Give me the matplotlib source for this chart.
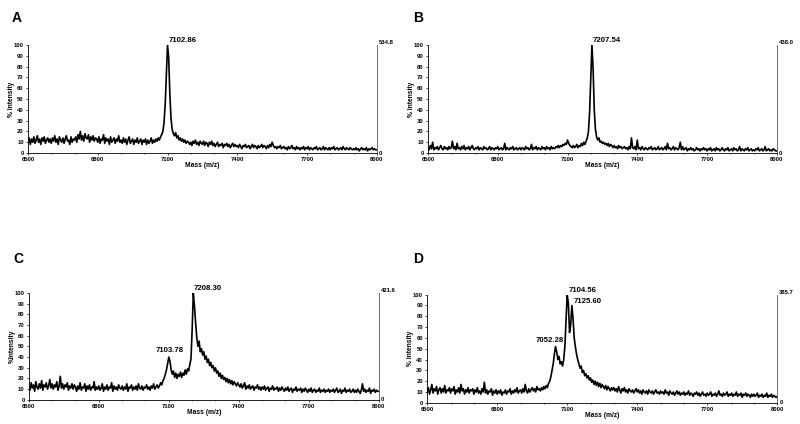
import numpy as np
import matplotlib
matplotlib.use('Agg')
import matplotlib.pyplot as plt
from matplotlib.ticker import MultipleLocator

plt.rcParams['font.family'] = ['Liberation Sans', 'DejaVu Sans']
plt.rcParams['font.weight'] = 'bold'

# масса, шаг 5 Да
mass = np.arange(6500, 8001, 5)

# интенсивность (%) по панелям, каждая строка = 100 Да
intens_a = [
    11, 14, 8, 13, 10, 15, 9, 12, 16, 10, 13, 8, 14, 11, 15, 9, 12, 14, 10, 13,
    9, 14, 11, 16, 10, 13, 8, 15, 12, 10, 14, 9, 13, 16, 11, 12, 8, 15, 10, 13,
    12, 15, 10, 17, 13, 20, 12, 16, 11, 18, 14, 13, 17, 10, 15, 12, 16, 11, 14, 13,
    10, 15, 9, 13, 12, 17, 9, 14, 11, 13, 8, 15, 10, 12, 14, 9, 13, 11, 16, 10,
    12, 9, 14, 10, 13, 8, 12, 15, 9, 11, 13, 8, 12, 10, 14, 9, 11, 13, 8, 12,
    10, 13, 8, 12, 9, 11, 14, 9, 12, 10, 13, 11, 14, 12, 15, 17, 20, 28, 45, 72,
    100, 88, 55, 32, 22, 18, 16, 19, 14, 16, 12, 14, 11, 13, 10, 12, 9, 11, 10, 8,
    10, 7, 11, 9, 12, 8, 10, 7, 11, 9, 8, 11, 7, 10, 9, 6, 10, 8, 11, 7,
    9, 6, 8, 10, 6, 8, 7, 9, 5, 8, 7, 9, 6, 8, 5, 7, 9, 6, 8, 6,
    7, 5, 8, 6, 4, 7, 6, 8, 5, 6, 7, 4, 6, 8, 5, 7, 6, 4, 7, 5,
    6, 8, 5, 7, 6, 4, 7, 5, 8, 6, 10, 7, 5, 6, 4, 6, 5, 7, 4, 5,
    6, 4, 5, 3, 6, 4, 5, 7, 4, 5, 3, 6, 4, 5, 3, 5, 4, 6, 3, 5,
    4, 6, 3, 5, 4, 3, 5, 4, 6, 3, 4, 5, 3, 4, 6, 3, 5, 4, 3, 5,
    3, 5, 4, 6, 3, 4, 5, 3, 4, 5, 3, 6, 4, 3, 5, 4, 3, 5, 4, 3,
    4, 3, 5, 3, 4, 2, 4, 5, 3, 4, 3, 5, 2, 4, 3, 4, 5, 3, 4, 3,
    3]

intens_b = [
    5, 3, 7, 4, 10, 3, 5, 4, 6, 3, 5, 7, 4, 3, 6, 4, 5, 3, 6, 4,
    5, 11, 4, 6, 3, 9, 4, 5, 3, 6, 4, 7, 3, 5, 4, 6, 3, 5, 7, 4,
    3, 5, 4, 6, 3, 5, 4, 3, 6, 4, 5, 3, 4, 6, 3, 5, 4, 3, 5, 4,
    6, 3, 4, 5, 3, 4, 9, 3, 5, 4, 3, 5, 4, 6, 3, 4, 5, 3, 4, 5,
    3, 5, 4, 3, 6, 4, 5, 3, 4, 8, 3, 5, 4, 6, 3, 5, 4, 3, 6, 4,
    5, 3, 6, 4, 5, 3, 6, 4, 5, 4, 6, 5, 7, 5, 7, 6, 8, 7, 9, 8,
    12, 9, 7, 6, 5, 7, 5, 6, 8, 5, 7, 6, 9, 7, 10, 8, 11, 14, 20, 38,
    70, 100, 78, 40, 22, 15, 12, 14, 10, 11, 9, 10, 8, 9, 7, 9, 6, 8, 7, 5,
    7, 5, 6, 4, 7, 5, 6, 4, 5, 6, 4, 5, 3, 6, 4, 14, 5, 4, 6, 3,
    12, 4, 5, 3, 6, 4, 3, 5, 4, 3, 5, 4, 6, 3, 4, 5, 3, 4, 6, 3,
    4, 5, 3, 4, 6, 3, 9, 4, 5, 3, 4, 6, 3, 5, 4, 3, 5, 10, 3, 6,
    3, 4, 5, 2, 4, 3, 5, 3, 4, 2, 3, 5, 3, 4, 2, 4, 3, 5, 3, 4,
    2, 4, 3, 5, 2, 3, 4, 2, 5, 3, 4, 2, 3, 5, 3, 2, 4, 3, 5, 2,
    3, 4, 2, 5, 3, 4, 2, 3, 6, 2, 4, 3, 2, 4, 3, 5, 2, 3, 4, 2,
    3, 2, 4, 3, 5, 2, 3, 4, 2, 3, 6, 2, 3, 4, 2, 3, 2, 4, 3, 2,
    2]

intens_c = [
    13, 9, 16, 11, 14, 8, 17, 12, 10, 15, 11, 18, 9, 14, 12, 16, 10, 13, 19, 11,
    15, 10, 14, 12, 17, 9, 13, 22, 11, 15, 10, 14, 12, 16, 9, 13, 11, 15, 10, 14,
    12, 8, 13, 10, 16, 9, 12, 11, 15, 8, 13, 10, 14, 9, 12, 11, 17, 9, 12, 10,
    13, 9, 11, 15, 8, 12, 10, 14, 9, 12, 11, 16, 8, 13, 10, 12, 9, 14, 11, 10,
    13, 9, 12, 10, 15, 8, 12, 11, 14, 9, 12, 10, 13, 9, 15, 11, 10, 13, 9, 12,
    11, 14, 10, 12, 9, 13, 11, 15, 10, 12, 14, 11, 13, 16, 14, 18, 20, 24, 28, 34,
    40, 36, 28, 24, 27, 21, 25, 20, 24, 22, 26, 21, 25, 23, 28, 24, 29, 27, 33, 38,
    65, 100, 88, 72, 58, 50, 55, 45, 48, 42, 45, 38, 41, 35, 38, 32, 35, 30, 32, 27,
    30, 25, 27, 22, 25, 20, 23, 19, 21, 17, 20, 16, 19, 15, 18, 14, 17, 15, 13, 16,
    14, 12, 15, 11, 13, 16, 10, 13, 11, 14, 10, 12, 13, 9, 12, 11, 14, 10, 12, 9,
    12, 10, 13, 9, 11, 12, 8, 11, 10, 13, 9, 11, 10, 12, 8, 11, 9, 12, 10, 8,
    11, 9, 12, 8, 10, 11, 7, 10, 9, 12, 8, 10, 9, 11, 7, 10, 8, 11, 9, 7,
    10, 8, 11, 7, 9, 10, 7, 9, 8, 11, 7, 9, 8, 10, 7, 9, 8, 10, 7, 9,
    8, 10, 7, 9, 11, 7, 8, 10, 6, 9, 8, 11, 7, 9, 8, 10, 7, 8, 10, 7,
    9, 7, 10, 8, 6, 9, 15, 8, 10, 7, 9, 8, 11, 6, 9, 8, 10, 7, 9, 8,
    8]

intens_d = [
    10, 14, 8, 12, 17, 9, 13, 11, 15, 8, 12, 14, 9, 13, 10, 16, 9, 12, 11, 14,
    9, 13, 11, 15, 8, 12, 10, 14, 9, 17, 11, 13, 8, 12, 10, 14, 9, 12, 11, 13,
    8, 12, 10, 14, 9, 11, 8, 13, 10, 19, 9, 12, 8, 11, 10, 13, 7, 11, 9, 12,
    8, 11, 9, 12, 7, 10, 9, 12, 8, 11, 10, 13, 8, 11, 9, 12, 10, 14, 9, 11,
    12, 9, 13, 10, 17, 11, 9, 13, 10, 12, 14, 11, 13, 10, 15, 12, 13, 11, 14, 12,
    15, 13, 16, 14, 18, 20, 24, 30, 36, 45, 52, 47, 40, 43, 36, 38, 34, 40, 52, 75,
    100, 92, 65, 72, 90, 78, 60, 52, 45, 40, 36, 32, 34, 28, 30, 25, 27, 23, 25, 21,
    23, 19, 21, 17, 20, 16, 19, 15, 18, 14, 17, 15, 13, 16, 12, 15, 13, 11, 14, 12,
    14, 11, 13, 10, 15, 12, 9, 13, 11, 14, 10, 12, 9, 13, 11, 10, 12, 9, 11, 13,
    10, 12, 9, 11, 8, 12, 10, 9, 11, 8, 12, 10, 9, 11, 8, 10, 12, 9, 10, 8,
    11, 9, 10, 8, 12, 9, 10, 7, 11, 9, 8, 10, 7, 9, 11, 8, 10, 7, 9, 8,
    10, 7, 9, 8, 11, 7, 9, 8, 6, 9, 8, 10, 7, 9, 6, 8, 10, 7, 8, 6,
    9, 7, 8, 10, 6, 8, 7, 9, 6, 8, 11, 7, 8, 6, 9, 7, 8, 10, 6, 8,
    7, 9, 6, 8, 7, 10, 6, 8, 7, 9, 5, 8, 7, 9, 6, 8, 7, 5, 8, 6,
    8, 6, 7, 9, 5, 7, 6, 8, 5, 7, 6, 9, 5, 7, 6, 8, 5, 7, 6, 5,
    6]

panel_letters = ['A', 'B', 'C', 'D']
max_counts = ['534.8', '438.0', '421.6', '385.7']
y_titles = ['% Intensity', '% Intensity', '%Intensity', '% Intensity']
peak_labels = [['7102.86'], ['7207.54'], ['7208.30', '7103.78'],
               ['7104.56', '7125.60', '7052.28']]
x_ticks = [6500, 6800, 7100, 7400, 7700, 8000]

# расположение: (left, bottom, width, height) в долях фигуры
boxes = [(0.035, 0.639, 0.436, 0.255), (0.535, 0.639, 0.436, 0.255),
         (0.036, 0.057, 0.4375, 0.252), (0.534, 0.050, 0.4375, 0.255)]
letter_xy = [(0.015, 0.958), (0.516, 0.958), (0.017, 0.390), (0.516, 0.390)]
# (высота подписи, выравнивание, сдвиг по x)
label_place = [[(100.5, 'left', 0)], [(100.5, 'left', 0)],
               [(100.5, 'left', 0), (43, 'center', 0)],
               [(100.5, 'left', 0), (90, 'left', 0), (54, 'center', -25)]]

fig = plt.figure(figsize=(8, 4.24), dpi=100)
all_int = [intens_a, intens_b, intens_c, intens_d]

for i in range(4):
    ax = fig.add_axes(boxes[i])
    ax.plot(mass, all_int[i], color='black', lw=1.2)
    ax.set_xlim(6500, 8000)
    ax.set_ylim(0, 100)
    ax.set_xticks(x_ticks)
    ax.xaxis.set_minor_locator(MultipleLocator(100))
    ax.set_yticks(range(0, 101, 10))
    ax.tick_params(axis='both', which='major', labelsize=4.2, length=1.5,
                   width=0.5, pad=1.5)
    ax.tick_params(axis='x', which='minor', length=1.0, width=0.4)
    for lab in ax.get_xticklabels() + ax.get_yticklabels():
        lab.set_fontweight('bold')
    ax.spines['top'].set_visible(False)
    for s in ['left', 'bottom', 'right']:
        ax.spines[s].set_linewidth(0.6)
    ax.spines['right'].set_color('#555555')
    ax.set_xlabel('Mass (m/z)', fontsize=4.8, fontweight='bold', labelpad=1)
    ax.set_ylabel(y_titles[i], fontsize=4.8, fontweight='bold')
    ax.yaxis.set_label_coords(-0.037, 0.5)
    ax.xaxis.set_label_coords(0.5, -0.085)
    ax.text(1.006, 1.02, max_counts[i], transform=ax.transAxes, fontsize=4.2,
            fontweight='bold', va='center', ha='left')
    ax.text(1.006, 0.0, '0', transform=ax.transAxes, fontsize=4.2,
            fontweight='bold', va='center', ha='left')
    for lbl, (yy, ha, dx) in zip(peak_labels[i], label_place[i]):
        ax.text(float(lbl) + dx, yy, lbl, fontsize=5.6, fontweight='bold',
                ha=ha, va='bottom', clip_on=False)
    fig.text(letter_xy[i][0], letter_xy[i][1], panel_letters[i], fontsize=10,
             fontweight='bold', va='center', ha='left')

fig.savefig('out.png', dpi=100)
